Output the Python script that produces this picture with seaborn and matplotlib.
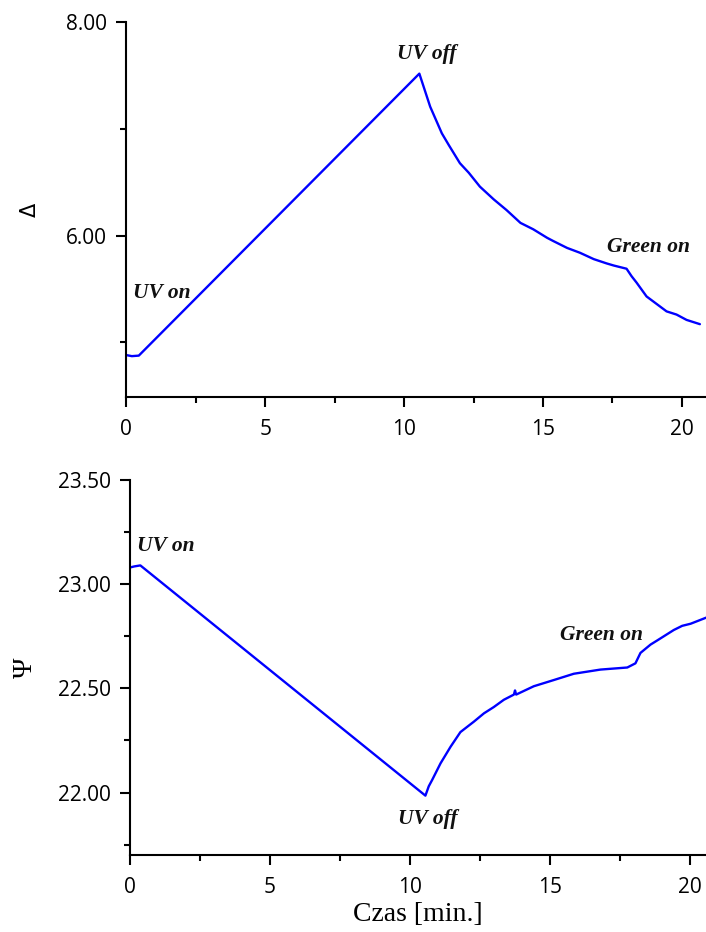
import matplotlib
matplotlib.use("Agg")
import matplotlib.pyplot as plt
from matplotlib.ticker import MultipleLocator, FormatStrFormatter
import numpy as np
import pandas as pd
import seaborn as sns

# Delta vs time
t_delta = [0.0, 0.2, 0.45, 10.55, 10.94, 11.36, 11.61, 12.01, 12.33, 12.73,
           13.23, 13.69, 14.19, 14.65, 15.15, 15.37, 15.87, 16.33, 16.83,
           17.29, 17.55, 18.01, 18.19, 18.37, 18.73, 19.09, 19.45, 19.81,
           20.17, 20.65]
delta = [4.88, 4.87, 4.875, 7.52, 7.21, 6.96, 6.85, 6.68, 6.59, 6.46,
         6.34, 6.24, 6.12, 6.06, 5.98, 5.95, 5.885, 5.84, 5.78,
         5.74, 5.72, 5.69, 5.62, 5.56, 5.43, 5.36, 5.29, 5.26,
         5.21, 5.17]

# Psi vs time
t_psi = [0.0, 0.15, 0.37, 10.55, 10.67, 10.79, 11.09, 11.45, 11.80, 12.28,
         12.64, 12.99, 13.35, 13.71, 13.75, 13.79, 14.42, 15.14, 15.85, 16.80,
         17.76, 18.05, 18.23, 18.59, 18.83, 19.42, 19.72, 20.02, 20.59]
psi = [23.08, 23.085, 23.09, 21.985, 22.03, 22.06, 22.14, 22.22, 22.29, 22.34,
       22.38, 22.41, 22.445, 22.47, 22.49, 22.47, 22.51, 22.54, 22.57, 22.59,
       22.60, 22.62, 22.67, 22.71, 22.73, 22.78, 22.80, 22.81, 22.84]

# Event labels: (text, time, value)
events_delta = [("UV on", 0.24, 5.42), ("UV off", 9.75, 7.66), ("Green on", 17.29, 5.85)]
events_psi = [("UV on", 0.26, 23.16), ("UV off", 9.58, 21.85), ("Green on", 15.34, 22.73)]

x_label = "Czas [min.]"

sns.set_theme(style="ticks")
plt.rcParams["font.family"] = ["Open Sans", "DejaVu Sans"]
plt.rcParams["axes.linewidth"] = 1.5
for k in ("xtick.major.width", "ytick.major.width",
          "xtick.minor.width", "ytick.minor.width"):
    plt.rcParams[k] = 1.5
plt.rcParams["axes.edgecolor"] = "black"

fig = plt.figure(figsize=(7.06, 9.32), dpi=100)
ax1 = fig.add_axes([0.1789, 0.5744, 0.8211, 0.4015])
ax2 = fig.add_axes([0.1841, 0.0826, 0.8159, 0.4024])

df1 = pd.DataFrame({"t": t_delta, "v": delta})
df2 = pd.DataFrame({"t": t_psi, "v": psi})
sns.lineplot(data=df1, x="t", y="v", ax=ax1, color="#0000ff", lw=1.7,
             estimator=None, sort=False)
sns.lineplot(data=df2, x="t", y="v", ax=ax2, color="#0000ff", lw=1.7,
             estimator=None, sort=False)

ann_font = dict(family="Liberation Serif", style="italic", weight="bold", size=15.5)

for ax, xmax, ylim, major, minor, events in [
    (ax1, 20.87, (4.49, 8.0), 2.0, 1.0, events_delta),
    (ax2, 20.57, (21.70, 23.5), 0.5, 0.25, events_psi),
]:
    ax.set_xlim(0, xmax)
    ax.set_ylim(*ylim)
    ax.xaxis.set_major_locator(MultipleLocator(5))
    ax.xaxis.set_minor_locator(MultipleLocator(2.5))
    ax.yaxis.set_major_locator(MultipleLocator(major))
    ax.yaxis.set_minor_locator(MultipleLocator(minor))
    ax.yaxis.set_major_formatter(FormatStrFormatter("%.2f"))
    ax.xaxis.set_major_formatter(FormatStrFormatter("%d"))
    ax.tick_params(which="major", direction="out", length=7, labelsize=15,
                   color="black", labelcolor="black")
    ax.tick_params(axis="x", which="major", pad=9)
    ax.tick_params(axis="y", which="major", pad=7)
    ax.tick_params(which="minor", direction="out", length=4, color="black")
    ax.spines["top"].set_visible(False)
    ax.spines["right"].set_visible(False)
    ax.set_xlabel("")
    ax.set_ylabel("")
    for txt, tx, ty in events:
        ax.text(tx, ty, txt, ha="left", va="baseline", color="#111111", **ann_font)

ax1.set_ylabel("\u0394", family="DejaVu Sans", fontsize=15, color="black")
ax1.yaxis.set_label_coords(-0.150, 0.5)
ax2.set_ylabel("\u03a8", family="Liberation Serif", fontsize=20, color="black")
ax2.yaxis.set_label_coords(-0.160, 0.5)
ax2.set_xlabel(x_label, family="Liberation Serif", fontsize=20, color="black",
               labelpad=3)

fig.savefig("out.png", dpi=100)
